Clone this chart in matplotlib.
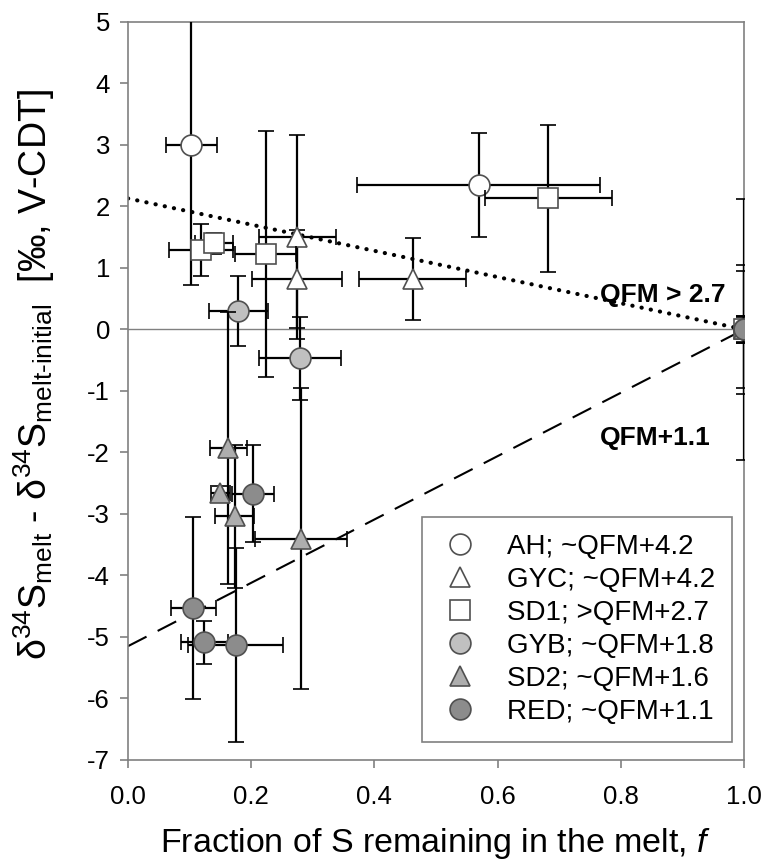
import matplotlib
matplotlib.use("Agg")
import matplotlib.pyplot as plt
from matplotlib.lines import Line2D

plt.rcParams['font.family'] = ['Liberation Sans', 'DejaVu Sans']
plt.rcParams['mathtext.fontset'] = 'custom'
plt.rcParams['mathtext.rm'] = 'Liberation Sans'
plt.rcParams['mathtext.it'] = 'Liberation Sans:italic'
plt.rcParams['mathtext.default'] = 'regular'
plt.rcParams['axes.unicode_minus'] = False

# series: f, delta34S shift, errors
ah_f = [0.103, 0.569, 1.0]
ah_d = [3.00, 2.35, 0.0]
ah_fe = [0.041, 0.197, 0.0]
ah_de = [2.28, 0.85, 2.12]

gyc_f = [0.275, 0.274, 0.462, 1.0]
gyc_d = [1.50, 0.82, 0.82, 0.0]
gyc_fe = [0.063, 0.073, 0.087, 0.0]
gyc_de = [1.66, 0.79, 0.67, 1.05]

sd1_f = [0.119, 0.140, 0.2235, 0.682, 1.0]
sd1_d = [1.29, 1.40, 1.22, 2.13, 0.0]
sd1_fe = [0.052, 0.031, 0.050, 0.103, 0.0]
sd1_de = [0.42, 0.17, 2.00, 1.20, 0.95]

gyb_f = [0.179, 0.279, 1.0]
gyb_d = [0.30, -0.47, 0.0]
gyb_fe = [0.048, 0.067, 0.0]
gyb_de = [0.57, 0.68, 0.22]

sd2_f = [0.163, 0.150, 0.173, 0.281, 1.0]
sd2_d = [-1.93, -2.66, -3.04, -3.40, 0.0]
sd2_fe = [0.030, 0.016, 0.032, 0.075, 0.0]
sd2_de = [2.21, 0.12, 1.16, 2.44, 0.20]

red_f = [0.203, 0.106, 0.124, 0.175, 1.0]
red_d = [-2.67, -4.53, -5.09, -5.13, 0.0]
red_fe = [0.034, 0.037, 0.038, 0.077, 0.0]
red_de = [0.79, 1.48, 0.35, 1.57, 0.22]

labels = ["AH; ~QFM+4.2", "GYC; ~QFM+4.2", "SD1; >QFM+2.7",
          "GYB; ~QFM+1.8", "SD2; ~QFM+1.6", "RED; ~QFM+1.1"]
markers = ["o", "^", "s", "o", "^", "o"]
faces = ["white", "white", "white", "#c0c0c0", "#adadad", "#8c8c8c"]
msizes = [15, 15, 14, 15, 15, 15]

# model lines: intercept at f=0, zero at f=1
ox_f = [0.0, 1.0]
ox_d = [2.13, 0.0]
red_line_f = [0.0, 1.0]
red_line_d = [-5.15, 0.0]

fig = plt.figure(figsize=(7.66, 8.63), dpi=100)
ax = fig.add_axes([0.1671, 0.1194, 0.8042, 0.8552])

ax.axhline(0, color="#808080", lw=1.0, zorder=1)
ax.plot(ox_f, ox_d, color="black", lw=3, linestyle=(0, (0.05, 2.2)),
        dash_capstyle="round", zorder=2)
ax.plot(red_line_f, red_line_d, color="black", lw=1.5,
        linestyle=(0, (10, 6)), zorder=2)

series = [(ah_f, ah_d, ah_fe, ah_de), (gyc_f, gyc_d, gyc_fe, gyc_de),
          (sd1_f, sd1_d, sd1_fe, sd1_de), (gyb_f, gyb_d, gyb_fe, gyb_de),
          (sd2_f, sd2_d, sd2_fe, sd2_de), (red_f, red_d, red_fe, red_de)]

handles = []
for i, (f, d, fe, de) in enumerate(series):
    ax.errorbar(f, d, xerr=fe, yerr=de, fmt=markers[i], ms=msizes[i],
                mfc=faces[i], mec="#505050", mew=1.2, ecolor="black",
                elinewidth=1.6, capsize=6, capthick=1.6, zorder=3 + i)
    handles.append(Line2D([], [], marker=markers[i], ls="none", ms=msizes[i],
                          mfc=faces[i], mec="#505050", mew=1.2))

ax.text(0.766, 0.56, "QFM > 2.7", fontsize=19, fontweight="bold",
        va="center", ha="left")
ax.text(0.766, -1.76, "QFM+1.1", fontsize=19, fontweight="bold",
        va="center", ha="left")

leg = ax.legend(handles, labels, loc="lower right",
                bbox_to_anchor=(0.98, 0.025), borderaxespad=0,
                fontsize=20, frameon=True, fancybox=False,
                handlelength=1.5, handletextpad=0.95, labelspacing=0.25,
                borderpad=0.6)
leg.get_frame().set_edgecolor("#606060")
leg.get_frame().set_linewidth(1.2)
leg.set_zorder(20)

ax.set_xlim(0, 1.0)
ax.set_ylim(-7, 5)
ax.set_xticks([0.0, 0.2, 0.4, 0.6, 0.8, 1.0])
ax.set_xticklabels(["0.0", "0.2", "0.4", "0.6", "0.8", "1.0"])
ax.set_yticks(range(-7, 6))
for s in ax.spines.values():
    s.set_color("#808080")
    s.set_linewidth(1.2)
ax.tick_params(direction="out", length=6, width=1.2, color="#808080",
               labelsize=18.5)
ax.tick_params(axis="x", pad=12)
ax.tick_params(axis="y", pad=7)

ax.set_xlabel("Fraction of S remaining in the melt, $\\it{f}$",
              fontsize=24.5, labelpad=12)
ax.set_ylabel("δ$^{34}$S$_{melt}$ - δ$^{34}$S$_{melt\u2010initial}$  [‰, V-CDT]",
              fontsize=27)
ax.yaxis.set_label_coords(-0.115, 0.522)

fig.savefig("out.png", dpi=100)
